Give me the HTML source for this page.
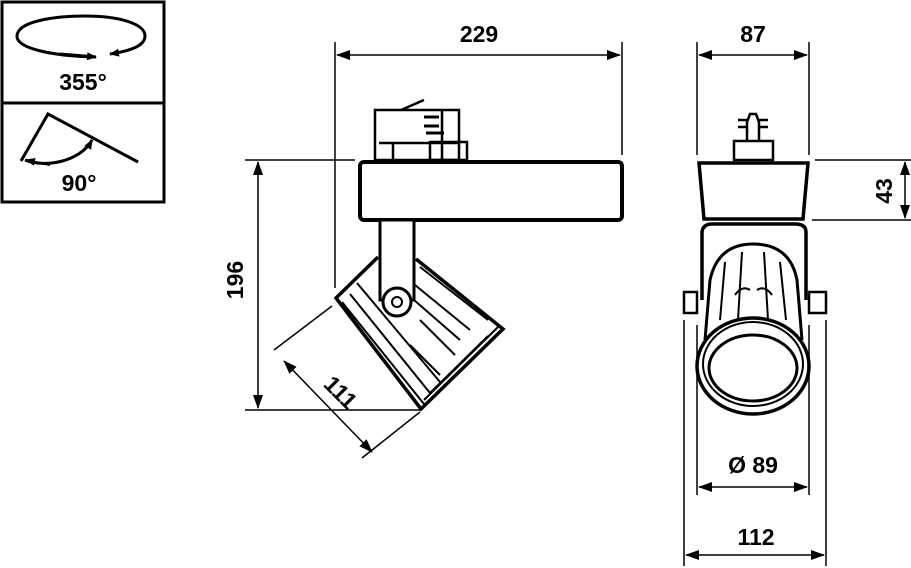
<!DOCTYPE html>
<html><head><meta charset="utf-8"><style>
html,body{margin:0;padding:0;background:#fff;}
svg{display:block;}
text{font-family:"Liberation Sans",sans-serif;font-size:23px;fill:#000;}
</style></head><body>
<svg width="911" height="568" viewBox="0 0 911 568" xmlns="http://www.w3.org/2000/svg">
<defs>
<marker id="ar" markerWidth="14" markerHeight="10" refX="13" refY="5" orient="auto-start-reverse" markerUnits="userSpaceOnUse">
<path d="M0,0 L14,5 L0,10 Z" fill="#000"/></marker>
<marker id="sa" markerWidth="10" markerHeight="8" refX="9" refY="4" orient="auto" markerUnits="userSpaceOnUse">
<path d="M0,0 L10,4 L0,8 Z" fill="#000"/></marker>
</defs>
<g fill="none" stroke="#000">
<!-- icon box -->
<rect x="2" y="2" width="162" height="200" stroke-width="3"/>
<line x1="2" y1="103" x2="164" y2="103" stroke-width="3"/>
<path d="M96,57 C50,56 18,48 17,37 C16,20 60,16 85,16 C120,16 145,24 145,36 C145,46 130,51 110,54" stroke-width="3" marker-end="url(#sa)"/>
<path d="M60,54 L96,57" stroke-width="3" marker-end="url(#sa)"/>
<path d="M21,161 L48,114 L138,162" stroke-width="3"/>
<path d="M25,160 C45,168 80,162 92,140" stroke-width="3" marker-end="url(#sa)"/>
<path d="M50,165 L26,160" stroke-width="2" marker-end="url(#sa)"/>
<!-- left view dims -->
<g stroke-width="1.5">
<line x1="335" y1="42" x2="335" y2="288"/>
<line x1="622" y1="42" x2="622" y2="155"/>
<line x1="337" y1="55" x2="620" y2="55" marker-start="url(#ar)" marker-end="url(#ar)"/>
<line x1="245" y1="160" x2="355" y2="160"/>
<line x1="245" y1="410" x2="420" y2="410"/>
<line x1="258" y1="162" x2="258" y2="408" marker-start="url(#ar)" marker-end="url(#ar)"/>
<line x1="274" y1="350" x2="332" y2="306"/>
<line x1="362" y1="458" x2="420" y2="412"/>
<line x1="284" y1="361" x2="372" y2="452" marker-start="url(#ar)" marker-end="url(#ar)"/>
</g>
<!-- adapter -->
<g stroke-width="2.5">
<rect x="375" y="110" width="84" height="50"/>
<rect x="430" y="142" width="37" height="18"/>
<line x1="379" y1="143" x2="460" y2="143"/>
<line x1="393" y1="143" x2="393" y2="160"/>
<line x1="401" y1="110" x2="424" y2="100"/>
<path d="M424,117 h15 M424,126 h15 M426,133 h18" stroke-width="3"/>
<line x1="442" y1="110" x2="442" y2="160"/>
</g>
<rect x="360" y="162" width="262" height="58" rx="4" stroke-width="4"/>
<rect x="380" y="220" width="34" height="80" stroke-width="3" fill="#fff"/>
<!-- head -->
<path d="M378,257 L336,298 L421,409 L503,329 L416,259" stroke-width="3.5"/>
<g stroke-width="2">
<line x1="342" y1="302" x2="424" y2="404"/>
<line x1="350" y1="294" x2="430" y2="393"/>
<line x1="357" y1="283" x2="440" y2="382"/>
<line x1="420" y1="267" x2="488" y2="320"/>
<line x1="415" y1="285" x2="470" y2="330"/>
<line x1="414" y1="300" x2="460" y2="340"/>
<line x1="420" y1="320" x2="455" y2="355"/>
<line x1="410" y1="345" x2="440" y2="375"/>
<line x1="424" y1="400" x2="498" y2="327"/>
<line x1="430" y1="393" x2="488" y2="336"/>
</g>
<circle cx="397" cy="302" r="14" stroke-width="3" fill="#fff"/>
<circle cx="397" cy="302" r="5" stroke-width="2"/>
<!-- right view dims -->
<g stroke-width="1.5">
<line x1="697" y1="42" x2="697" y2="155"/>
<line x1="809" y1="42" x2="809" y2="155"/>
<line x1="699" y1="55" x2="807" y2="55" marker-start="url(#ar)" marker-end="url(#ar)"/>
<line x1="815" y1="160" x2="911" y2="160"/>
<line x1="812" y1="220" x2="911" y2="220"/>
<line x1="905" y1="162" x2="905" y2="218" marker-start="url(#ar)" marker-end="url(#ar)"/>
<line x1="697" y1="325" x2="697" y2="495"/>
<line x1="809" y1="325" x2="809" y2="495"/>
<line x1="699" y1="487" x2="807" y2="487" marker-start="url(#ar)" marker-end="url(#ar)"/>
<line x1="684" y1="320" x2="684" y2="566"/>
<line x1="826" y1="320" x2="826" y2="566"/>
<line x1="686" y1="555" x2="824" y2="555" marker-start="url(#ar)" marker-end="url(#ar)"/>
</g>
<!-- right view body -->
<g stroke-width="2.5">
<path d="M747,141 v-19 l3,-8 h6 l3,8 v19"/>
<path d="M738,120 h9 M738,127 h9 M759,120 h9 M759,127 h9"/>
<rect x="734" y="141" width="39" height="19"/>
<rect x="684" y="292" width="13" height="21"/>
<rect x="809" y="292" width="17" height="21"/>
</g>
<path d="M699,163 L808,163 L803,219 L704,219 Z" stroke-width="3.5"/>
<path d="M702,300 L702,232 Q703,224 712,224 L795,224 Q806,224 806,232 L806,300" stroke-width="3.5"/>
<path d="M705,340 L710,280 Q718,244 753,244 Q790,244 797,280 L802,340" stroke-width="3"/>
<g stroke-width="2">
<path d="M725,262 L720,320 M742,252 L738,320 M764,252 L768,320 M780,262 L786,320"/>
<path d="M735,295 Q742,285 750,290 M757,290 Q765,285 772,295"/>
</g>
<ellipse cx="753" cy="366" rx="56" ry="48" stroke-width="3.5" fill="#fff"/>
<ellipse cx="753" cy="364" rx="50" ry="42" stroke-width="2"/>
<ellipse cx="753" cy="368" rx="44" ry="33" stroke-width="3"/>
</g>
<!-- text -->
<g font-weight="bold">
<text x="83" y="90" text-anchor="middle">355°</text>
<text x="79" y="191" text-anchor="middle">90°</text>
<text x="479" y="42" text-anchor="middle">229</text>
<text x="753" y="42" text-anchor="middle">87</text>
<text x="753" y="473" text-anchor="middle">Ø 89</text>
<text x="756" y="545" text-anchor="middle">112</text>
<text transform="translate(243,280) rotate(-90)" text-anchor="middle">196</text>
<text transform="translate(892,191) rotate(-90)" text-anchor="middle">43</text>
<text transform="translate(335,398) rotate(45)" text-anchor="middle">111</text>
</g>
</svg>
</body></html>
